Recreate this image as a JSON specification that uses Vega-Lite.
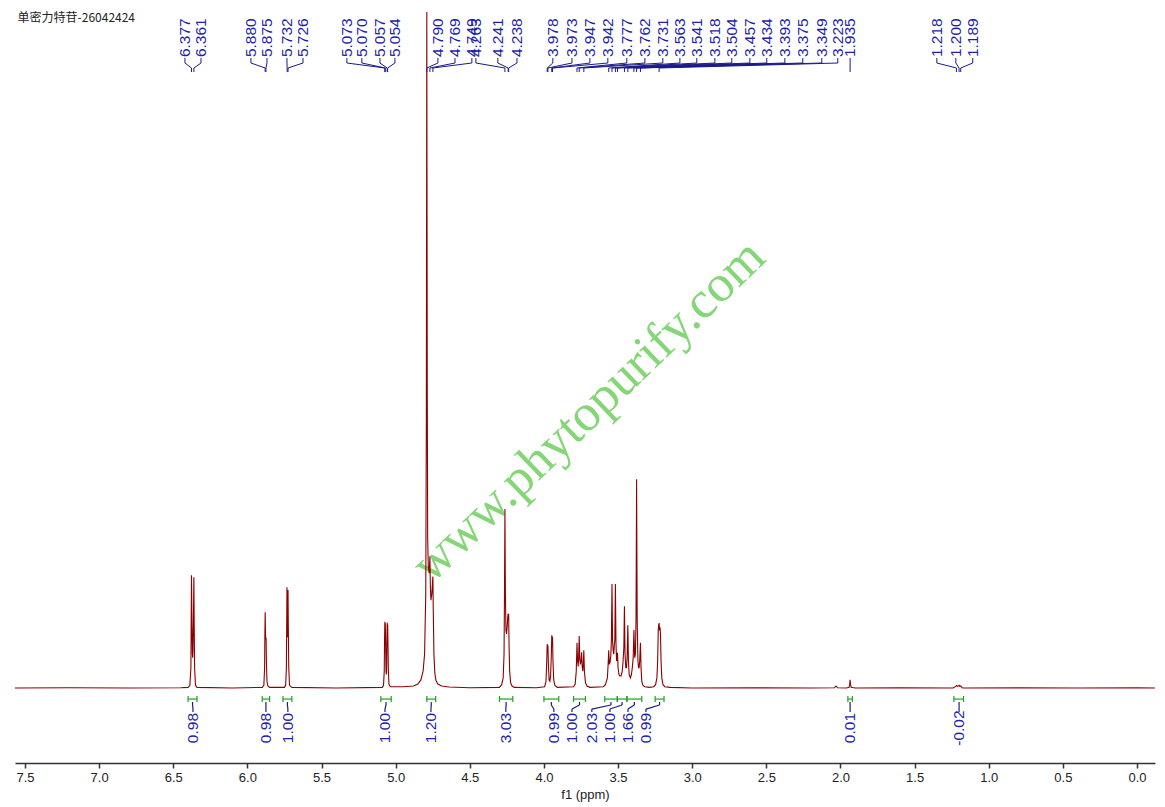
{
  "$schema": "https://vega.github.io/schema/vega-lite/v6.json",
  "width": 1140,
  "height": 763,
  "padding": {"left": 15, "top": 0, "right": 10, "bottom": 2},
  "background": "white",
  "config": {
    "view": {"stroke": null},
    "font": "Liberation Sans",
    "axisX": {
      "grid": false, "tickSize": 5, "tickWidth": 1.5, "tickColor": "#333333",
      "domainColor": "#333333", "domainWidth": 1.5,
      "labelFont": "Liberation Sans", "labelFontSize": 13, "labelColor": "#222222", "labelPadding": 3,
      "labelOverlap": false, "labelFlush": false,
      "titleFont": "Liberation Sans", "titleFontSize": 13, "titleFontWeight": "normal", "titleColor": "#222222", "titlePadding": 4
    }
  },
  "datasets": {
    "spec": [
      {"ppm": 7.5674, "i": 0}, {"ppm": 7.2, "i": 0.05}, {"ppm": 6.8, "i": 0}, {"ppm": 6.45, "i": 0.05},
      {"ppm": 6.40, "i": 0.1}, {"ppm": 6.388, "i": 0.4}, {"ppm": 6.381, "i": 3}, {"ppm": 6.379, "i": 10}, {"ppm": 6.377, "i": 16.7}, {"ppm": 6.374, "i": 10}, {"ppm": 6.371, "i": 5}, {"ppm": 6.369, "i": 4.5}, {"ppm": 6.367, "i": 5.5}, {"ppm": 6.364, "i": 10}, {"ppm": 6.361, "i": 16.4}, {"ppm": 6.359, "i": 10}, {"ppm": 6.356, "i": 3}, {"ppm": 6.350, "i": 0.4}, {"ppm": 6.34, "i": 0.1},
      {"ppm": 6.1, "i": 0}, {"ppm": 5.90, "i": 0.1}, {"ppm": 5.889, "i": 0.4}, {"ppm": 5.884, "i": 3}, {"ppm": 5.882, "i": 8}, {"ppm": 5.880, "i": 11.2}, {"ppm": 5.878, "i": 8}, {"ppm": 5.876, "i": 7.2}, {"ppm": 5.874, "i": 7.4}, {"ppm": 5.872, "i": 4}, {"ppm": 5.868, "i": 1}, {"ppm": 5.862, "i": 0.3}, {"ppm": 5.85, "i": 0.1},
      {"ppm": 5.75, "i": 0.1}, {"ppm": 5.742, "i": 0.4}, {"ppm": 5.737, "i": 3}, {"ppm": 5.735, "i": 9}, {"ppm": 5.733, "i": 14.9}, {"ppm": 5.731, "i": 10}, {"ppm": 5.729, "i": 7.5}, {"ppm": 5.728, "i": 10}, {"ppm": 5.726, "i": 14.5}, {"ppm": 5.724, "i": 9}, {"ppm": 5.721, "i": 3}, {"ppm": 5.716, "i": 0.4}, {"ppm": 5.70, "i": 0.1},
      {"ppm": 5.4, "i": 0}, {"ppm": 5.09, "i": 0.1}, {"ppm": 5.082, "i": 0.4}, {"ppm": 5.077, "i": 2.5}, {"ppm": 5.075, "i": 7}, {"ppm": 5.073, "i": 9.8}, {"ppm": 5.0715, "i": 8.5}, {"ppm": 5.070, "i": 9.6}, {"ppm": 5.068, "i": 7}, {"ppm": 5.065, "i": 2.5}, {"ppm": 5.063, "i": 2}, {"ppm": 5.061, "i": 2.8}, {"ppm": 5.059, "i": 7}, {"ppm": 5.057, "i": 9.7}, {"ppm": 5.0555, "i": 8.5}, {"ppm": 5.054, "i": 9.4}, {"ppm": 5.052, "i": 6.5}, {"ppm": 5.049, "i": 2.5}, {"ppm": 5.045, "i": 0.5}, {"ppm": 5.035, "i": 0.2},
      {"ppm": 4.95, "i": 0.2}, {"ppm": 4.88, "i": 0.3}, {"ppm": 4.85, "i": 0.6}, {"ppm": 4.83, "i": 1.2}, {"ppm": 4.815, "i": 2.5}, {"ppm": 4.805, "i": 5}, {"ppm": 4.797, "i": 14}, {"ppm": 4.793, "i": 40}, {"ppm": 4.790, "i": 100}, {"ppm": 4.787, "i": 45}, {"ppm": 4.784, "i": 22}, {"ppm": 4.780, "i": 18}, {"ppm": 4.774, "i": 17}, {"ppm": 4.771, "i": 18.5}, {"ppm": 4.769, "i": 19.5}, {"ppm": 4.766, "i": 15}, {"ppm": 4.762, "i": 13}, {"ppm": 4.756, "i": 14}, {"ppm": 4.752, "i": 15.5}, {"ppm": 4.749, "i": 16.5}, {"ppm": 4.746, "i": 11}, {"ppm": 4.742, "i": 5}, {"ppm": 4.736, "i": 2.2}, {"ppm": 4.728, "i": 1.1}, {"ppm": 4.715, "i": 0.6}, {"ppm": 4.69, "i": 0.3}, {"ppm": 4.64, "i": 0.15}, {"ppm": 4.5, "i": 0.05},
      {"ppm": 4.30, "i": 0.1}, {"ppm": 4.285, "i": 0.5}, {"ppm": 4.275, "i": 1.5}, {"ppm": 4.269, "i": 5}, {"ppm": 4.266, "i": 14}, {"ppm": 4.263, "i": 26.5}, {"ppm": 4.260, "i": 14}, {"ppm": 4.256, "i": 8.5}, {"ppm": 4.252, "i": 8}, {"ppm": 4.248, "i": 9}, {"ppm": 4.244, "i": 10.5}, {"ppm": 4.241, "i": 11}, {"ppm": 4.2395, "i": 10.5}, {"ppm": 4.238, "i": 11}, {"ppm": 4.235, "i": 6}, {"ppm": 4.231, "i": 2.5}, {"ppm": 4.225, "i": 0.8}, {"ppm": 4.215, "i": 0.3}, {"ppm": 4.20, "i": 0.1},
      {"ppm": 4.05, "i": 0.05}, {"ppm": 3.995, "i": 0.2}, {"ppm": 3.986, "i": 1}, {"ppm": 3.981, "i": 4}, {"ppm": 3.978, "i": 6.5}, {"ppm": 3.9755, "i": 5.5}, {"ppm": 3.973, "i": 6.3}, {"ppm": 3.970, "i": 3.5}, {"ppm": 3.965, "i": 1.2}, {"ppm": 3.960, "i": 1.0}, {"ppm": 3.955, "i": 1.8}, {"ppm": 3.950, "i": 5}, {"ppm": 3.947, "i": 7.8}, {"ppm": 3.9445, "i": 6.8}, {"ppm": 3.942, "i": 7.6}, {"ppm": 3.939, "i": 4}, {"ppm": 3.934, "i": 1.2}, {"ppm": 3.926, "i": 0.4}, {"ppm": 3.91, "i": 0.1},
      {"ppm": 3.80, "i": 0.2}, {"ppm": 3.789, "i": 0.6}, {"ppm": 3.782, "i": 2.5}, {"ppm": 3.777, "i": 6.7}, {"ppm": 3.773, "i": 4}, {"ppm": 3.769, "i": 3.2}, {"ppm": 3.766, "i": 4.5}, {"ppm": 3.762, "i": 7.7}, {"ppm": 3.758, "i": 4.2}, {"ppm": 3.754, "i": 3.5}, {"ppm": 3.750, "i": 4}, {"ppm": 3.746, "i": 5.3}, {"ppm": 3.742, "i": 3.2}, {"ppm": 3.738, "i": 2.5}, {"ppm": 3.735, "i": 3.2}, {"ppm": 3.731, "i": 5.6}, {"ppm": 3.727, "i": 2.5}, {"ppm": 3.720, "i": 0.8}, {"ppm": 3.710, "i": 0.3}, {"ppm": 3.69, "i": 0.1},
      {"ppm": 3.60, "i": 0.2}, {"ppm": 3.585, "i": 0.5}, {"ppm": 3.572, "i": 1.5}, {"ppm": 3.567, "i": 3.5}, {"ppm": 3.563, "i": 5.6}, {"ppm": 3.559, "i": 3.5}, {"ppm": 3.554, "i": 3.8}, {"ppm": 3.549, "i": 4.8}, {"ppm": 3.545, "i": 7}, {"ppm": 3.541, "i": 15.4}, {"ppm": 3.537, "i": 7}, {"ppm": 3.533, "i": 5.5}, {"ppm": 3.529, "i": 5}, {"ppm": 3.525, "i": 6.5}, {"ppm": 3.522, "i": 7}, {"ppm": 3.518, "i": 15.4}, {"ppm": 3.514, "i": 6.5}, {"ppm": 3.510, "i": 4}, {"ppm": 3.507, "i": 4.5}, {"ppm": 3.504, "i": 5.2}, {"ppm": 3.500, "i": 3}, {"ppm": 3.494, "i": 2}, {"ppm": 3.488, "i": 1.8},
      {"ppm": 3.480, "i": 1.8}, {"ppm": 3.472, "i": 2.5}, {"ppm": 3.466, "i": 4}, {"ppm": 3.461, "i": 6}, {"ppm": 3.457, "i": 12.1}, {"ppm": 3.453, "i": 5}, {"ppm": 3.448, "i": 3}, {"ppm": 3.443, "i": 3}, {"ppm": 3.439, "i": 4.5}, {"ppm": 3.434, "i": 9.3}, {"ppm": 3.430, "i": 4}, {"ppm": 3.425, "i": 2}, {"ppm": 3.417, "i": 1.5}, {"ppm": 3.410, "i": 2}, {"ppm": 3.404, "i": 3}, {"ppm": 3.398, "i": 4.5}, {"ppm": 3.393, "i": 8.6}, {"ppm": 3.388, "i": 4.5}, {"ppm": 3.383, "i": 5}, {"ppm": 3.379, "i": 10}, {"ppm": 3.377, "i": 20}, {"ppm": 3.375, "i": 30.9}, {"ppm": 3.373, "i": 20}, {"ppm": 3.371, "i": 10}, {"ppm": 3.366, "i": 4}, {"ppm": 3.362, "i": 3}, {"ppm": 3.358, "i": 3}, {"ppm": 3.354, "i": 4}, {"ppm": 3.349, "i": 6.7}, {"ppm": 3.345, "i": 3}, {"ppm": 3.340, "i": 1}, {"ppm": 3.332, "i": 0.4}, {"ppm": 3.32, "i": 0.2}, {"ppm": 3.29, "i": 0.1},
      {"ppm": 3.26, "i": 0.2}, {"ppm": 3.247, "i": 0.5}, {"ppm": 3.238, "i": 1.5}, {"ppm": 3.233, "i": 4}, {"ppm": 3.229, "i": 8.5}, {"ppm": 3.226, "i": 9.3}, {"ppm": 3.223, "i": 9.6}, {"ppm": 3.220, "i": 8.5}, {"ppm": 3.217, "i": 9}, {"ppm": 3.214, "i": 8}, {"ppm": 3.210, "i": 4}, {"ppm": 3.205, "i": 1.5}, {"ppm": 3.197, "i": 0.5}, {"ppm": 3.185, "i": 0.2}, {"ppm": 3.15, "i": 0.1},
      {"ppm": 3.0, "i": 0}, {"ppm": 2.6, "i": 0.03}, {"ppm": 2.2, "i": 0}, {"ppm": 2.04, "i": 0.05}, {"ppm": 2.03, "i": 0.3}, {"ppm": 2.02, "i": 0.05}, {"ppm": 1.96, "i": 0}, {"ppm": 1.942, "i": 0.1}, {"ppm": 1.938, "i": 0.5}, {"ppm": 1.935, "i": 1.2}, {"ppm": 1.932, "i": 0.5}, {"ppm": 1.928, "i": 0.1}, {"ppm": 1.90, "i": 0}, {"ppm": 1.6, "i": 0.02},
      {"ppm": 1.24, "i": 0}, {"ppm": 1.225, "i": 0.2}, {"ppm": 1.218, "i": 0.35}, {"ppm": 1.210, "i": 0.25}, {"ppm": 1.200, "i": 0.4}, {"ppm": 1.195, "i": 0.25}, {"ppm": 1.189, "i": 0.3}, {"ppm": 1.18, "i": 0.05}, {"ppm": 1.17, "i": 0}, {"ppm": 0.8, "i": 0.02}, {"ppm": 0.4, "i": 0}, {"ppm": 0.0, "i": 0.02}, {"ppm": -0.1214, "i": 0}
    ],
    "peaks": [
      {"p": 6.377, "lx": 6.421}, {"p": 6.361, "lx": 6.313},
      {"p": 5.880, "lx": 5.976}, {"p": 5.875, "lx": 5.868}, {"p": 5.732, "lx": 5.733}, {"p": 5.726, "lx": 5.625},
      {"p": 5.073, "lx": 5.329}, {"p": 5.070, "lx": 5.228}, {"p": 5.057, "lx": 5.106}, {"p": 5.054, "lx": 5.005},
      {"p": 4.790, "lx": 4.715}, {"p": 4.769, "lx": 4.600}, {"p": 4.749, "lx": 4.486}, {"p": 4.263, "lx": 4.459}, {"p": 4.241, "lx": 4.311}, {"p": 4.238, "lx": 4.182},
      {"p": 3.978, "lx": 3.940}, {"p": 3.973, "lx": 3.811}, {"p": 3.947, "lx": 3.690}, {"p": 3.942, "lx": 3.569}, {"p": 3.777, "lx": 3.441}, {"p": 3.762, "lx": 3.319}, {"p": 3.731, "lx": 3.198},
      {"p": 3.563, "lx": 3.083}, {"p": 3.541, "lx": 2.969}, {"p": 3.518, "lx": 2.847}, {"p": 3.504, "lx": 2.733}, {"p": 3.457, "lx": 2.611}, {"p": 3.434, "lx": 2.497}, {"p": 3.393, "lx": 2.375}, {"p": 3.375, "lx": 2.254}, {"p": 3.349, "lx": 2.126}, {"p": 3.223, "lx": 2.018},
      {"p": 1.935, "lx": 1.935},
      {"p": 1.218, "lx": 1.350}, {"p": 1.200, "lx": 1.222}, {"p": 1.189, "lx": 1.108}
    ],
    "integ": [
      {"a": 6.40, "b": 6.34, "c": 6.37, "lx": 6.367, "v": "0.98"},
      {"a": 5.90, "b": 5.85, "c": 5.875, "lx": 5.875, "v": "0.98"},
      {"a": 5.76, "b": 5.70, "c": 5.73, "lx": 5.727, "v": "1.00"},
      {"a": 5.10, "b": 5.03, "c": 5.065, "lx": 5.072, "v": "1.00"},
      {"a": 4.79, "b": 4.73, "c": 4.76, "lx": 4.762, "v": "1.20"},
      {"a": 4.30, "b": 4.21, "c": 4.255, "lx": 4.257, "v": "3.03"},
      {"a": 4.00, "b": 3.90, "c": 3.95, "lx": 3.933, "v": "0.99"},
      {"a": 3.80, "b": 3.72, "c": 3.76, "lx": 3.811, "v": "1.00"},
      {"a": 3.59, "b": 3.505, "c": 3.548, "lx": 3.677, "v": "2.03"},
      {"a": 3.505, "b": 3.44, "c": 3.473, "lx": 3.555, "v": "1.00"},
      {"a": 3.44, "b": 3.34, "c": 3.39, "lx": 3.433, "v": "1.66"},
      {"a": 3.25, "b": 3.19, "c": 3.22, "lx": 3.312, "v": "0.99"},
      {"a": 1.95, "b": 1.92, "c": 1.935, "lx": 1.935, "v": "0.01"},
      {"a": 1.235, "b": 1.17, "c": 1.20, "lx": 1.20, "v": "-0.02"}
    ],
    "heading": [{"x": 7.55, "y": 99.1, "t": "单密力特苷-26042424"}],
    "mark": [{"x": 3.70, "y": 41.0, "t": "www.phytopurify.com"}]
  },
  "layer": [
    {
      "data": {"name": "mark"},
      "mark": {"type": "text", "angle": -44, "align": "center", "baseline": "middle", "font": "Liberation Serif", "fontSize": 52, "color": "#6fcf5f", "opacity": 0.85},
      "encoding": {
        "x": {"field": "x", "type": "quantitative", "scale": {"domain": [7.5674, -0.1214], "nice": false, "zero": false},
          "title": "f1 (ppm)",
          "axis": {
            "values": [7.5, 7.25, 7, 6.75, 6.5, 6.25, 6, 5.75, 5.5, 5.25, 5, 4.75, 4.5, 4.25, 4, 3.75, 3.5, 3.25, 3, 2.75, 2.5, 2.25, 2, 1.75, 1.5, 1.25, 1, 0.75, 0.5, 0.25, 0],
            "labelExpr": "(datum.value * 2) % 1 == 0 ? format(datum.value, '.1f') : ''"
          }},
        "y": {"field": "y", "type": "quantitative", "scale": {"domain": [-11.09, 101.78], "nice": false, "zero": false}, "axis": null},
        "text": {"field": "t"}
      }
    },
    {
      "data": {"name": "spec"},
      "mark": {"type": "line", "color": "#8b0000", "strokeWidth": 1.1, "clip": true},
      "encoding": {
        "x": {"field": "ppm", "type": "quantitative", "title": "f1 (ppm)"},
        "y": {"field": "i", "type": "quantitative", "axis": null}
      }
    },
    {
      "data": {"name": "heading"},
      "mark": {"type": "text", "align": "left", "baseline": "middle", "font": "Noto Sans CJK SC", "fontSize": 12, "color": "#222222"},
      "encoding": {
        "x": {"field": "x", "type": "quantitative", "title": "f1 (ppm)"},
        "y": {"field": "y", "type": "quantitative", "axis": null},
        "text": {"field": "t"}
      }
    },
    {
      "data": {"name": "peaks"},
      "mark": {"type": "text", "angle": 270, "align": "left", "baseline": "middle", "fontSize": 15.5, "color": "#1f1fa8"},
      "encoding": {
        "x": {"field": "lx", "type": "quantitative", "title": "f1 (ppm)"},
        "y": {"datum": 93.34},
        "text": {"field": "p", "type": "quantitative", "format": ".3f"}
      }
    },
    {
      "data": {"name": "peaks"},
      "mark": {"type": "rule", "color": "#1a1a8c", "strokeWidth": 1},
      "encoding": {
        "x": {"field": "lx", "type": "quantitative", "title": "f1 (ppm)"},
        "y": {"datum": 93.2},
        "y2": {"datum": 92.46}
      }
    },
    {
      "data": {"name": "peaks"},
      "mark": {"type": "rule", "color": "#1a1a8c", "strokeWidth": 1},
      "encoding": {
        "x": {"field": "lx", "type": "quantitative", "title": "f1 (ppm)"},
        "x2": {"field": "p"},
        "y": {"datum": 92.46},
        "y2": {"datum": 91.72}
      }
    },
    {
      "data": {"name": "peaks"},
      "mark": {"type": "rule", "color": "#1a1a8c", "strokeWidth": 1},
      "encoding": {
        "x": {"field": "p", "type": "quantitative", "title": "f1 (ppm)"},
        "y": {"datum": 91.72},
        "y2": {"datum": 91.12}
      }
    },
    {
      "data": {"name": "integ"},
      "mark": {"type": "rule", "color": "#22a022", "strokeWidth": 1.2},
      "encoding": {
        "x": {"field": "a", "type": "quantitative", "title": "f1 (ppm)"},
        "x2": {"field": "b"},
        "y": {"datum": -1.63}
      }
    },
    {
      "data": {"name": "integ"},
      "mark": {"type": "rule", "color": "#22a022", "strokeWidth": 1.2},
      "encoding": {
        "x": {"field": "a", "type": "quantitative", "title": "f1 (ppm)"},
        "y": {"datum": -1.18},
        "y2": {"datum": -2.07}
      }
    },
    {
      "data": {"name": "integ"},
      "mark": {"type": "rule", "color": "#22a022", "strokeWidth": 1.2},
      "encoding": {
        "x": {"field": "b", "type": "quantitative", "title": "f1 (ppm)"},
        "y": {"datum": -1.18},
        "y2": {"datum": -2.07}
      }
    },
    {
      "data": {"name": "integ"},
      "mark": {"type": "rule", "color": "#1a1a8c", "strokeWidth": 1.2},
      "encoding": {
        "x": {"field": "c", "type": "quantitative", "title": "f1 (ppm)"},
        "y": {"datum": -2.07},
        "y2": {"datum": -2.51}
      }
    },
    {
      "data": {"name": "integ"},
      "mark": {"type": "rule", "color": "#1a1a8c", "strokeWidth": 1.2},
      "encoding": {
        "x": {"field": "c", "type": "quantitative", "title": "f1 (ppm)"},
        "x2": {"field": "lx"},
        "y": {"datum": -2.51},
        "y2": {"datum": -3.11}
      }
    },
    {
      "data": {"name": "integ"},
      "mark": {"type": "rule", "color": "#1a1a8c", "strokeWidth": 1.2},
      "encoding": {
        "x": {"field": "lx", "type": "quantitative", "title": "f1 (ppm)"},
        "y": {"datum": -3.11},
        "y2": {"datum": -3.55}
      }
    },
    {
      "data": {"name": "integ"},
      "mark": {"type": "text", "angle": 270, "align": "center", "baseline": "middle", "fontSize": 15.5, "color": "#1f1fa8"},
      "encoding": {
        "x": {"field": "lx", "type": "quantitative", "title": "f1 (ppm)"},
        "y": {"datum": -5.92},
        "text": {"field": "v"}
      }
    }
  ]
}
